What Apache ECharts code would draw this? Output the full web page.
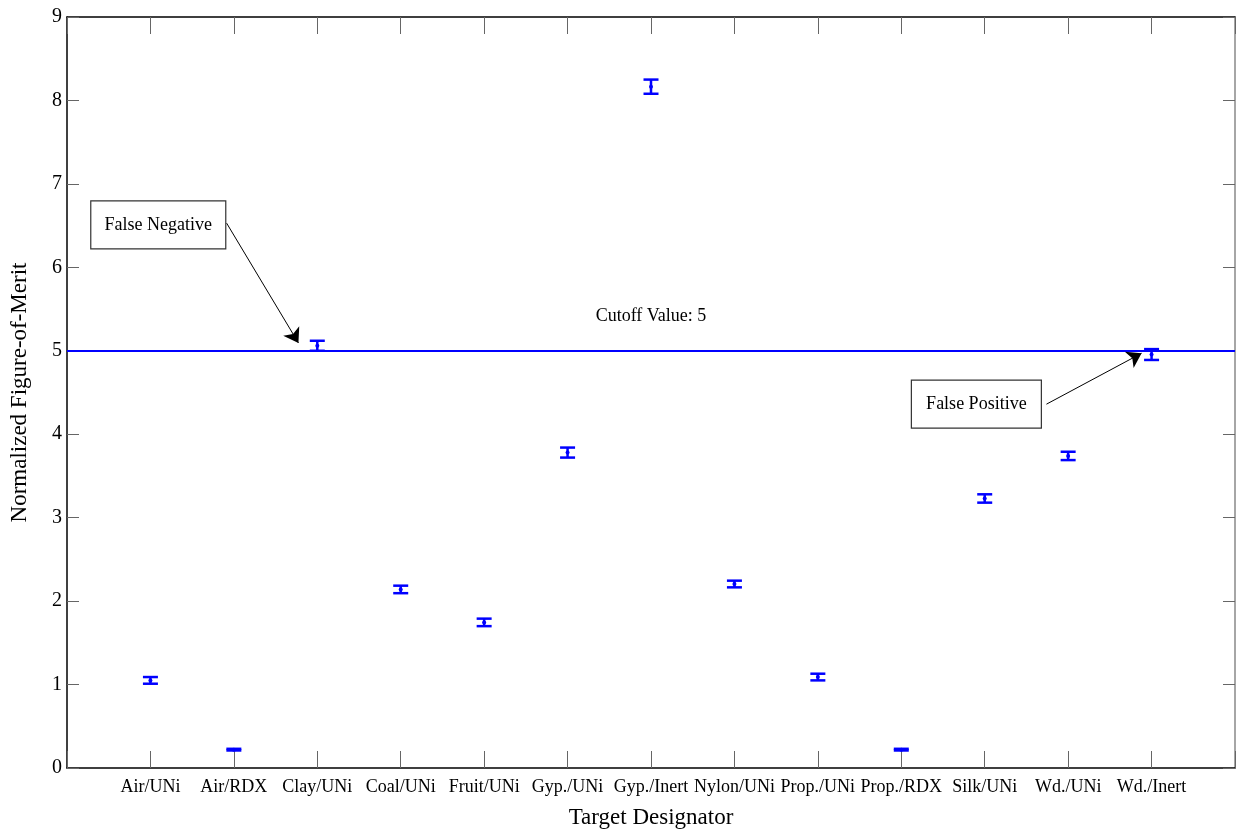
<!DOCTYPE html>
<html>
<head>
<meta charset="utf-8">
<script src="https://cdn.jsdelivr.net/npm/echarts@6/dist/echarts.min.js"></script>
<style>html,body{margin:0;padding:0;background:#fff}#c{width:1238px;height:838px}</style>
</head>
<body>
<div id="c"></div>
<script>
const categories = ['Air/UNi','Air/RDX','Clay/UNi','Coal/UNi','Fruit/UNi','Gyp./UNi','Gyp./Inert','Nylon/UNi','Prop./UNi','Prop./RDX','Silk/UNi','Wd./UNi','Wd./Inert'];
const means  = [1.05, 0.22, 5.06, 2.14, 1.745, 3.78, 8.165, 2.205, 1.09, 0.22, 3.23, 3.74, 4.955];
const errors = [0.04, 0.01, 0.06, 0.045, 0.045, 0.06, 0.085, 0.04, 0.04, 0.01, 0.05, 0.05, 0.065];
const yTicks = [0,1,2,3,4,5,6,7,8,9];
const cutoff = 5;
const cutoffLabel = 'Cutoff Value: 5';
const annFalseNeg = {text:'False Negative', box:[1.094, 6.51], from:[1.913, 6.53], to:[2.774, 5.094]};
const annFalsePos = {text:'False Positive', box:[10.90, 4.36], from:[11.74, 4.36], to:[12.88, 4.97]};
const cutoffLabelPos = [7.0, 5.41];

const FONT = "'Liberation Serif','Times New Roman',serif";
const chart = echarts.init(document.getElementById('c'), null, {renderer:'canvas'});

const errData = categories.map((c,i)=>[i+1, means[i], means[i]-errors[i], means[i]+errors[i]]);

const blue = '#0000ff';
const option = {
  animation:false,
  backgroundColor:'#fff',
  grid:{left:66, right:1, top:17, bottom:70},
  xAxis:[{
    type:'value', position:'bottom', min:0, max:categories.length+1, interval:1,
    name:'Target Designator', nameLocation:'middle', nameGap:38,
    nameTextStyle:{fontFamily:FONT, fontSize:23, color:'#000'},
    axisLine:{show:true, onZero:false, lineStyle:{color:'#000', width:1.5}},
    axisTick:{show:true, inside:true, length:17, lineStyle:{color:'#666'}},
    splitLine:{show:false},
    axisLabel:{fontFamily:FONT, fontSize:18, color:'#000', margin:10, showMinLabel:true, showMaxLabel:true,
      formatter:v=>{const i=Math.round(v)-1; return (i>=0&&i<categories.length)?categories[i]:'';}}
  },{
    type:'value', position:'top', min:0, max:categories.length+1, interval:1,
    axisLine:{show:true, onZero:false, lineStyle:{color:'#000', width:1.5}},
    axisTick:{show:true, inside:true, length:17, lineStyle:{color:'#666'}},
    axisLabel:{show:false}, splitLine:{show:false}
  }],
  yAxis:[{
    type:'value', position:'left', min:yTicks[0], max:yTicks[yTicks.length-1], interval:1,
    name:'Normalized Figure-of-Merit', nameLocation:'middle', nameGap:36, nameRotate:90,
    nameTextStyle:{fontFamily:FONT, fontSize:23, color:'#000'},
    axisLine:{show:true, onZero:false, lineStyle:{color:'#000', width:1.5}},
    axisTick:{show:true, inside:true, length:12, lineStyle:{color:'#666'}},
    splitLine:{show:false},
    axisLabel:{fontFamily:FONT, fontSize:20, color:'#000', margin:5}
  },{
    type:'value', position:'right', min:yTicks[0], max:yTicks[yTicks.length-1], interval:1,
    axisLine:{show:true, onZero:false, lineStyle:{color:'#888', width:1.5}},
    axisTick:{show:true, inside:true, length:12, lineStyle:{color:'#666'}},
    axisLabel:{show:false}, splitLine:{show:false}
  }],
  series:[{
    type:'custom',
    xAxisIndex:0, yAxisIndex:0,
    data:errData,
    renderItem:(params, api)=>{
      const x = api.value(0);
      const lo = api.coord([x, api.value(2)]);
      const hi = api.coord([x, api.value(3)]);
      const mid = api.coord([x, api.value(1)]);
      const hw = 7.5;
      const st = {stroke:blue, lineWidth:2.5};
      return {type:'group', children:[
        {type:'line', shape:{x1:lo[0], y1:lo[1], x2:hi[0], y2:hi[1]}, style:st},
        {type:'line', shape:{x1:lo[0]-hw, y1:lo[1], x2:lo[0]+hw, y2:lo[1]}, style:st},
        {type:'line', shape:{x1:hi[0]-hw, y1:hi[1], x2:hi[0]+hw, y2:hi[1]}, style:st},
        {type:'circle', shape:{cx:mid[0], cy:mid[1], r:2}, style:{fill:blue}}
      ]};
    },
    z:5
  },{
    type:'line', xAxisIndex:0, yAxisIndex:0, data:[], symbol:'none',
    markLine:{
      silent:true, symbol:['none','none'], label:{show:false},
      lineStyle:{color:blue, width:2, type:'solid'},
      data:[{yAxis:cutoff}]
    }
  },{
    type:'line', xAxisIndex:0, yAxisIndex:0, data:[], symbol:'none',
    markLine:{
      silent:true, symbol:['none','arrow'], symbolSize:14, label:{show:false},
      lineStyle:{color:'#000', width:1, type:'solid'},
      itemStyle:{color:'#000'},
      data:[
        [{coord:annFalseNeg.from},{coord:annFalseNeg.to}],
        [{coord:annFalsePos.from},{coord:annFalsePos.to}]
      ]
    }
  }]
};
chart.setOption(option);

function px(p){ return chart.convertToPixel({xAxisIndex:0, yAxisIndex:0}, p); }
function box(a, w, h){
  const c = px(a.box);
  return [{
    type:'rect', shape:{x:c[0]-w/2, y:c[1]-h/2, width:w, height:h},
    style:{fill:'#fff', stroke:'#333', lineWidth:1.2}, z:10
  },{
    type:'text', x:c[0], y:c[1],
    style:{text:a.text, font:'18px '+FONT, fill:'#000', align:'center', verticalAlign:'middle'}, z:11
  }];
}
const cl = px(cutoffLabelPos);
chart.setOption({graphic:[
  ...box(annFalseNeg, 135, 48),
  ...box(annFalsePos, 130, 48),
  {type:'text', x:cl[0], y:cl[1], style:{text:cutoffLabel, font:'18px '+FONT, fill:'#000', align:'center', verticalAlign:'middle'}, z:11}
]});
</script>
</body>
</html>
